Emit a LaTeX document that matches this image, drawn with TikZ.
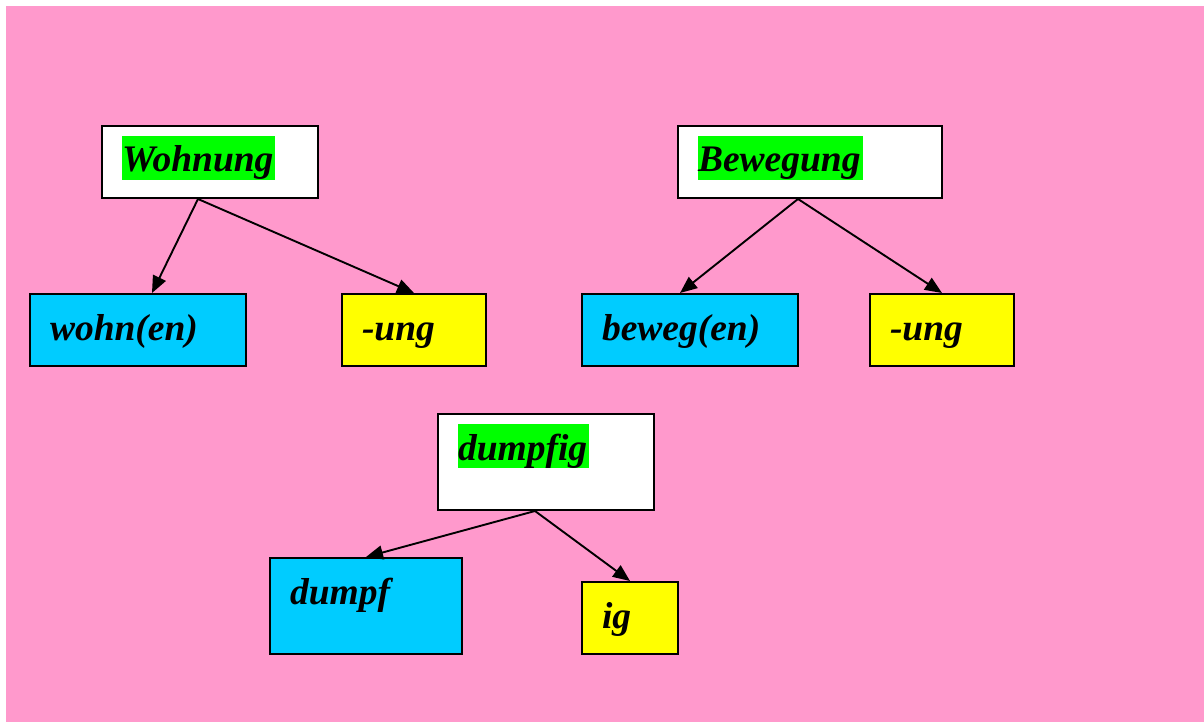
\documentclass[tikz,border=0pt]{standalone}
\usepackage{fontspec}
\setmainfont{Liberation Serif}
\usepackage{xcolor}
\usetikzlibrary{arrows.meta}

\definecolor{bgpink}{HTML}{FF99CC}
\definecolor{stemblue}{HTML}{00CCFF}
\definecolor{affixyellow}{HTML}{FFFF00}
\definecolor{hlgreen}{HTML}{00FF00}

\newcommand{\hlword}[1]{{\setlength{\fboxsep}{0pt}\colorbox{hlgreen}{\rule[-8pt]{0pt}{44pt}#1\kern2pt}}}

\begin{document}
\begin{tikzpicture}[x=1pt, y=-1pt,
  box/.style={draw, line width=2pt, anchor=north west, inner xsep=20pt, inner ysep=0pt,
    align=left, text height=46pt, font=\fontsize{37.5}{44}\selectfont\bfseries\itshape},
  arrow/.style={line width=1.9pt, -{Triangle[length=17pt,width=14pt]}}]
\useasboundingbox (0,0) rectangle (1204,722);
\fill [white] (0,0) rectangle (1204,722);
\fill [bgpink] (6,6) rectangle (1204,722);

% Wohnung
\node (wohnung) at (101,125) [box, fill=white, text width=176pt, text depth=26pt] {\hlword{Wohnung}};
\node (wohnen) at (29,293) [box, fill=stemblue, text width=176pt, text depth=26pt] {wohn(en)};
\node (ungA) at (341,293) [box, fill=affixyellow, text width=104pt, text depth=26pt] {-ung};

% Bewegung
\node (bewegung) at (677,125) [box, fill=white, text width=224pt, text depth=26pt] {\hlword{Bewegung}};
\node (bewegen) at (581,293) [box, fill=stemblue, text width=176pt, text depth=26pt] {beweg(en)};
\node (ungB) at (869,293) [box, fill=affixyellow, text width=104pt, text depth=26pt] {-ung};

% dumpfig
\node (dumpfig) at (437,413) [box, fill=white, text width=176pt, text depth=50pt] {\hlword{dumpfig}};
\node (dumpf) at (269,557) [box, fill=stemblue, text width=152pt, text depth=50pt] {dumpf};
\node (ig) at (581,581) [box, fill=affixyellow, text width=56pt, text depth=26pt] {ig};

\draw [arrow] ([xshift=-12pt]wohnung.south) -- ([xshift=14pt]wohnen.north);
\draw [arrow] ([xshift=-12pt]wohnung.south) -- (ungA.north);
\draw [arrow] ([xshift=-12pt]bewegung.south) -- ([xshift=-10pt]bewegen.north);
\draw [arrow] ([xshift=-12pt]bewegung.south) -- (ungB.north);
\draw [arrow] ([xshift=-11pt]dumpfig.south) -- (dumpf.north);
\draw [arrow] ([xshift=-11pt]dumpfig.south) -- (ig.north);
\end{tikzpicture}
\end{document}
